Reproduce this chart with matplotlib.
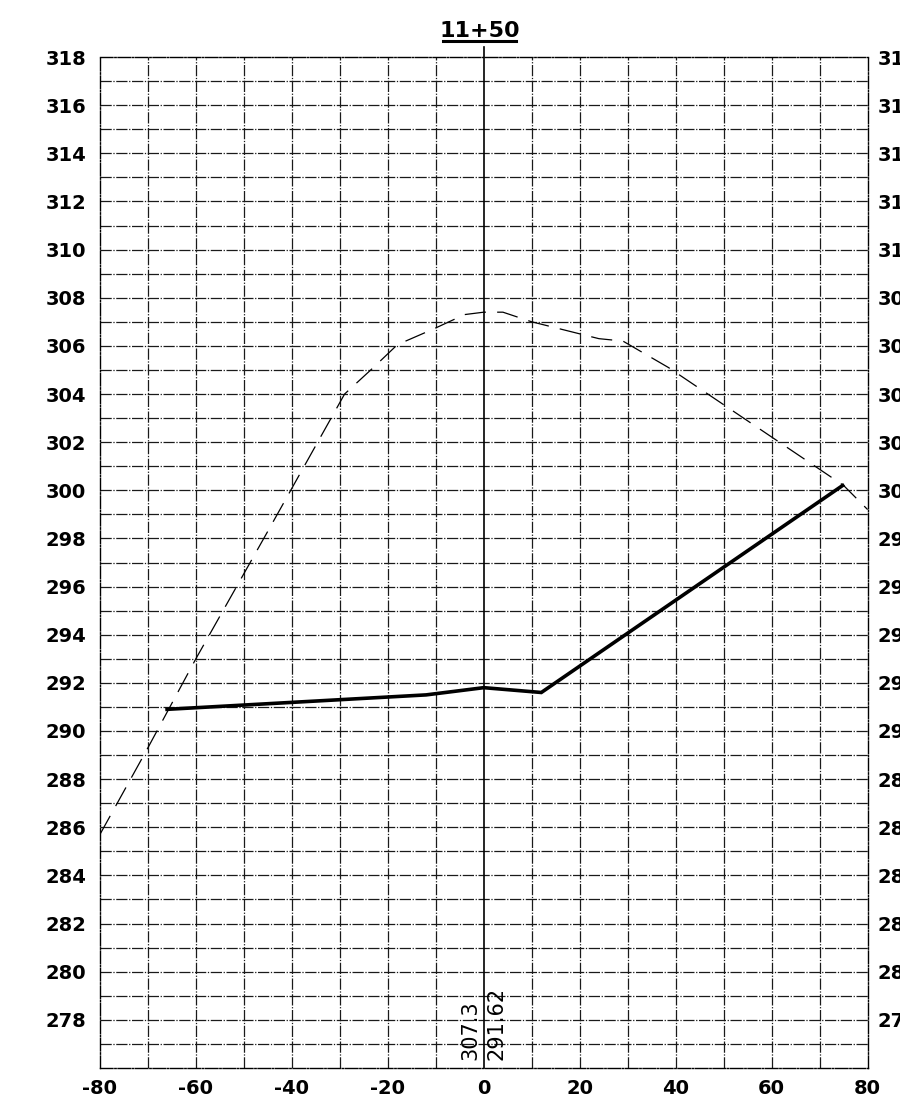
import matplotlib.pyplot as plt

# --- data ---
station = "11+50"
ground_x = [-80, -70, -60, -45, -29, -23, -18, -10.5, -4, 0, 4, 10, 24, 29, 38.5, 75, 80]
ground_y = [285.7, 289.3, 293.0, 298.3, 304.0, 305.1, 306.05, 306.7, 307.3, 307.4, 307.4, 307.0, 306.3, 306.2, 305.1, 300.2, 299.2]
design_x = [-66, -12, 0, 12, 74.8]
design_y = [290.9, 291.5, 291.8, 291.6, 300.2]
center_elev_ground = "307.3"
center_elev_design = "291.62"

x_ticks = list(range(-80, 81, 20))
y_ticks = list(range(278, 319, 2))

plt.rcParams['font.family'] = ['DejaVu Sans']
plt.rcParams['axes.unicode_minus'] = False

fig = plt.figure(figsize=(9, 11.12), dpi=100)
ax = fig.add_axes([0.111, 0.0396, 0.853, 0.9091])
ax.set_xlim(-80, 80)
ax.set_ylim(276, 318)

# grid: 10 ft verticals, 1 ft horizontals
grid_style = dict(color='#1a1a1a', lw=0.9, ls=(0, (9, 1.3, 1, 1.3)), zorder=1)
for gx in range(-70, 80, 10):
    if gx != 0:
        ax.axvline(gx, **grid_style)
for gy in range(277, 318):
    ax.axhline(gy, **grid_style)

# centre line
ax.plot([0, 0], [276, 318.4], color='black', lw=1.2, clip_on=False, zorder=2)

# existing ground (dashed) and design section (solid)
ax.plot(ground_x, ground_y, color='black', lw=0.9, ls=(0, (17, 9)), zorder=3)
ax.plot(design_x, design_y, color='black', lw=2.6, solid_joinstyle='miter', zorder=4)

# elevations at centre
ax.text(-0.7, 276.35, center_elev_ground, rotation=90, ha='right', va='bottom', fontsize=15)
ax.text(0.5, 276.35, center_elev_design, rotation=90, ha='left', va='bottom', fontsize=15)

for s in ax.spines.values():
    s.set_linewidth(1.0)
    s.set_linestyle((0, (9, 1.3, 1, 1.3)))

ax.set_xticks(x_ticks)
ax.set_yticks(y_ticks)
ax.tick_params(length=0, labelsize=14, pad=8)
ax.tick_params(axis='y', pad=10)
for lab in ax.get_xticklabels() + ax.get_yticklabels():
    lab.set_fontweight('bold')

# right-hand elevation labels (cut off by the sheet edge, as on the scan)
ax2 = ax.twinx()
ax2.set_ylim(276, 318)
ax2.set_yticks(y_ticks)
ax2.tick_params(length=0, labelsize=14, pad=7)
for lab in ax2.get_yticklabels():
    lab.set_fontweight('bold')
for s in ax2.spines.values():
    s.set_visible(False)

# title with underline
fig.text(0.533, 0.972, station, ha='center', va='center', fontsize=16, fontweight='bold')
fig.add_artist(plt.Line2D([0.492, 0.573], [0.9635, 0.9635], color='black', lw=2.2))

fig.savefig("out.png", dpi=100)
